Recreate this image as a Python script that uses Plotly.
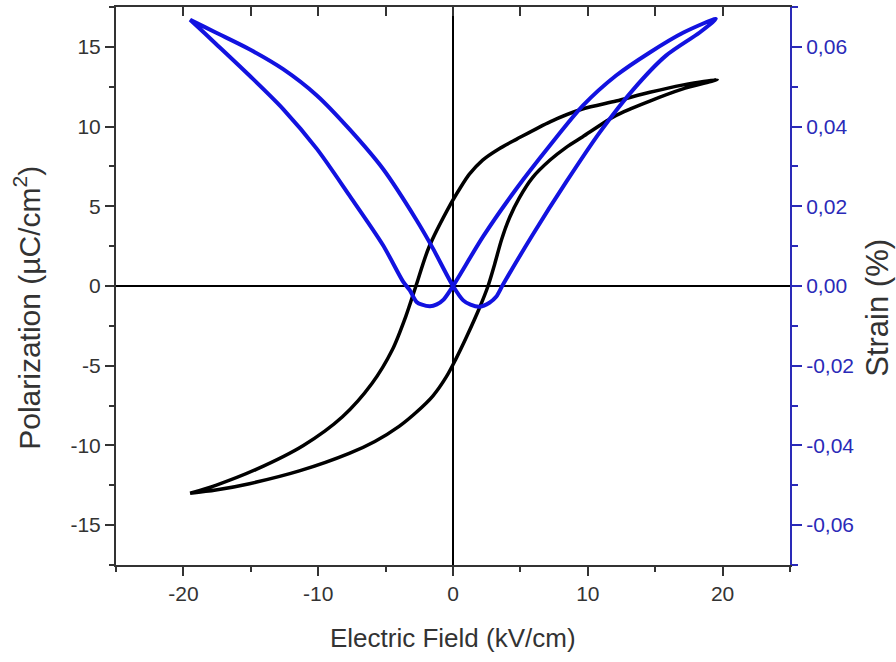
import plotly.graph_objects as go

# ---------------- data ----------------
# Polarization loop (black), field descending branch
E_pol_down = [19.6, 17.0, 14.6, 12.1, 9.6, 7.2, 4.7, 3.4, 2.2, 1.2, 0.5, -0.2, -1.8, -2.75, -3.5, -4.5,
              -6.0, -8.2, -11.1, -14.6, -17.6, -19.5]
P_pol_down = [12.95, 12.6, 12.15, 11.6, 11.1, 10.3, 9.2, 8.6, 7.9, 7.0, 6.1, 5.1, 2.4, 0.0, -1.9, -4.0,
              -6.1, -8.2, -10.0, -11.5, -12.5, -13.0]
# field ascending branch
E_pol_up = [-19.5, -17.6, -15.1, -11.4, -7.7, -5.8, -4.0, -2.7, -1.5, -0.5, 0.2, 1.0, 2.0, 2.6, 3.1,
            3.6, 4.2, 4.9, 5.9, 7.2, 8.4, 9.6, 12.1, 14.6, 17.0, 19.6]
P_pol_up = [-13.0, -12.8, -12.4, -11.6, -10.5, -9.75, -8.8, -7.9, -6.9, -5.7, -4.6, -3.2, -1.3, 0.0, 1.4,
            2.9, 4.3, 5.5, 6.8, 7.9, 8.7, 9.35, 10.7, 11.6, 12.35, 12.95]

# Strain butterfly (blue), field descending branch
E_str_down = [19.5, 17.1, 14.6, 12.1, 9.65, 7.2, 4.7, 2.25, 0.0, -0.7, -1.2, -1.7, -2.3, -2.7, -3.2,
              -3.7, -5.2, -7.7, -10.1, -12.6, -15.1, -17.6, -19.5]
S_str_down = [0.0670, 0.0636, 0.0586, 0.0528, 0.0453, 0.0353, 0.0244, 0.0125, 0.0, -0.0034, -0.0046,
              -0.0051, -0.0047, -0.0040, -0.0011, 0.0011, 0.0103, 0.0228, 0.0344, 0.0444, 0.0528,
              0.0608, 0.0668]
# field ascending branch
E_str_up = [-19.5, -17.6, -15.1, -12.6, -10.1, -7.7, -5.2, -2.7, -1.5, 0.0, 0.76, 1.3, 2.0, 2.7,
            3.2, 3.7, 5.9, 8.4, 10.9, 13.4, 15.8, 18.3, 19.5]
S_str_up = [0.0668, 0.0636, 0.0594, 0.0544, 0.0478, 0.0394, 0.0294, 0.0165, 0.0095, 0.0, -0.0036,
            -0.0047, -0.0052, -0.0042, -0.0027, 0.0003, 0.0128, 0.0261, 0.0386, 0.0494, 0.0578,
            0.0636, 0.0670]

# ticks
x_ticks = [-20, -10, 0, 10, 20]
x_tick_text = ["-20", "-10", "0", "10", "20"]
x_minor = [-25, -15, -5, 5, 15, 25]
x_top_ticks = [-20, -15, -10, -5, 0, 5, 10, 15, 20]
y_ticks = [-15, -10, -5, 0, 5, 10, 15]
y_tick_text = ["-15", "-10", "-5", "0", "5", "10", "15"]
y_minor = [-17.5, -12.5, -7.5, -2.5, 2.5, 7.5, 12.5, 17.5]
y2_ticks = [-0.06, -0.04, -0.02, 0.0, 0.02, 0.04, 0.06]
y2_tick_text = ["-0,06", "-0,04", "-0,02", "0,00", "0,02", "0,04", "0,06"]
y2_minor = [-0.07, -0.05, -0.03, -0.01, 0.01, 0.03, 0.05, 0.07]

x_title = "Electric Field (kV/cm)"
y_title = "Polarization (\u00b5C/cm<sup>2</sup>)"
y2_title = "Strain (%)"

# ---------------- figure ----------------
FONT = "Arial, Liberation Sans, sans-serif"
AX = "#333333"
BLUE_LINE = "#1212e0"
BLUE_AX = "#2a2ab8"

fig = go.Figure()
fig.add_trace(go.Scatter(x=E_pol_down + E_pol_up, y=P_pol_down + P_pol_up, mode="lines",
                         line=dict(color="black", width=3.5, shape="spline", smoothing=0.8),
                         xaxis="x", yaxis="y", showlegend=False, hoverinfo="skip"))
fig.add_trace(go.Scatter(x=E_str_down + E_str_up, y=S_str_down + S_str_up, mode="lines",
                         line=dict(color=BLUE_LINE, width=4, shape="spline", smoothing=0.8),
                         xaxis="x", yaxis="y2", showlegend=False, hoverinfo="skip"))
fig.add_trace(go.Scatter(x=[], y=[], xaxis="x2", yaxis="y", showlegend=False, hoverinfo="skip"))

fig.update_layout(
    width=896, height=662,
    margin=dict(l=116, r=106, t=7, b=97),
    paper_bgcolor="white", plot_bgcolor="white",
    font=dict(family=FONT, size=21, color=AX),
    showlegend=False,
    xaxis=dict(range=[-25, 25], tickmode="array", tickvals=x_ticks, ticktext=x_tick_text,
               ticks="outside", ticklen=9, tickwidth=1.5, tickcolor=AX,
               showline=True, linewidth=2, linecolor=AX, showgrid=False,
               zeroline=True, zerolinecolor="black", zerolinewidth=1.5,
               minor=dict(tickvals=x_minor, ticks="outside", ticklen=5, tickwidth=1.5, tickcolor=AX),
               tickfont=dict(size=21, color=AX), automargin=False),
    xaxis2=dict(range=[-25, 25], overlaying="x", side="top", anchor="y",
                tickmode="array", tickvals=x_top_ticks, showticklabels=False,
                ticks="inside", ticklen=9, tickwidth=1.5, tickcolor=AX,
                showline=True, linewidth=2, linecolor=AX, showgrid=False, zeroline=False,
                automargin=False),
    yaxis=dict(range=[-17.5, 17.5], tickmode="array", tickvals=y_ticks, ticktext=y_tick_text,
               ticks="outside", ticklen=9, tickwidth=1.5, tickcolor=AX,
               showline=True, linewidth=2, linecolor=AX, showgrid=False,
               zeroline=True, zerolinecolor="black", zerolinewidth=1.5,
               minor=dict(tickvals=y_minor, ticks="outside", ticklen=5, tickwidth=1.5, tickcolor=AX),
               tickfont=dict(size=21, color=AX), automargin=False),
    yaxis2=dict(range=[-0.07, 0.07], overlaying="y", side="right", anchor="x",
                tickmode="array", tickvals=y2_ticks, ticktext=y2_tick_text,
                ticks="outside", ticklen=10, tickwidth=1.5, tickcolor=BLUE_AX,
                showline=True, linewidth=2, linecolor=BLUE_AX, showgrid=False, zeroline=False,
                minor=dict(tickvals=y2_minor, ticks="outside", ticklen=6, tickwidth=1.5, tickcolor=BLUE_AX),
                tickfont=dict(size=21, color=BLUE_AX), automargin=False),
    annotations=[
        dict(text=x_title, xref="paper", yref="paper", x=0.5, y=-0.131, showarrow=False,
             xanchor="center", yanchor="middle", font=dict(size=26, color=AX)),
        dict(text=y_title, xref="paper", yref="paper", x=-0.132, y=0.461, showarrow=False,
             xanchor="center", yanchor="middle", textangle=-90, font=dict(size=30, color=AX)),
        dict(text=y2_title, xref="paper", yref="paper", x=1.1306, y=0.461, showarrow=False,
             xanchor="center", yanchor="middle", textangle=-90, font=dict(size=31, color=AX)),
    ],
)

fig.write_html("out.html", config={"displayModeBar": False},
               post_script="document.body.style.margin='0';")
